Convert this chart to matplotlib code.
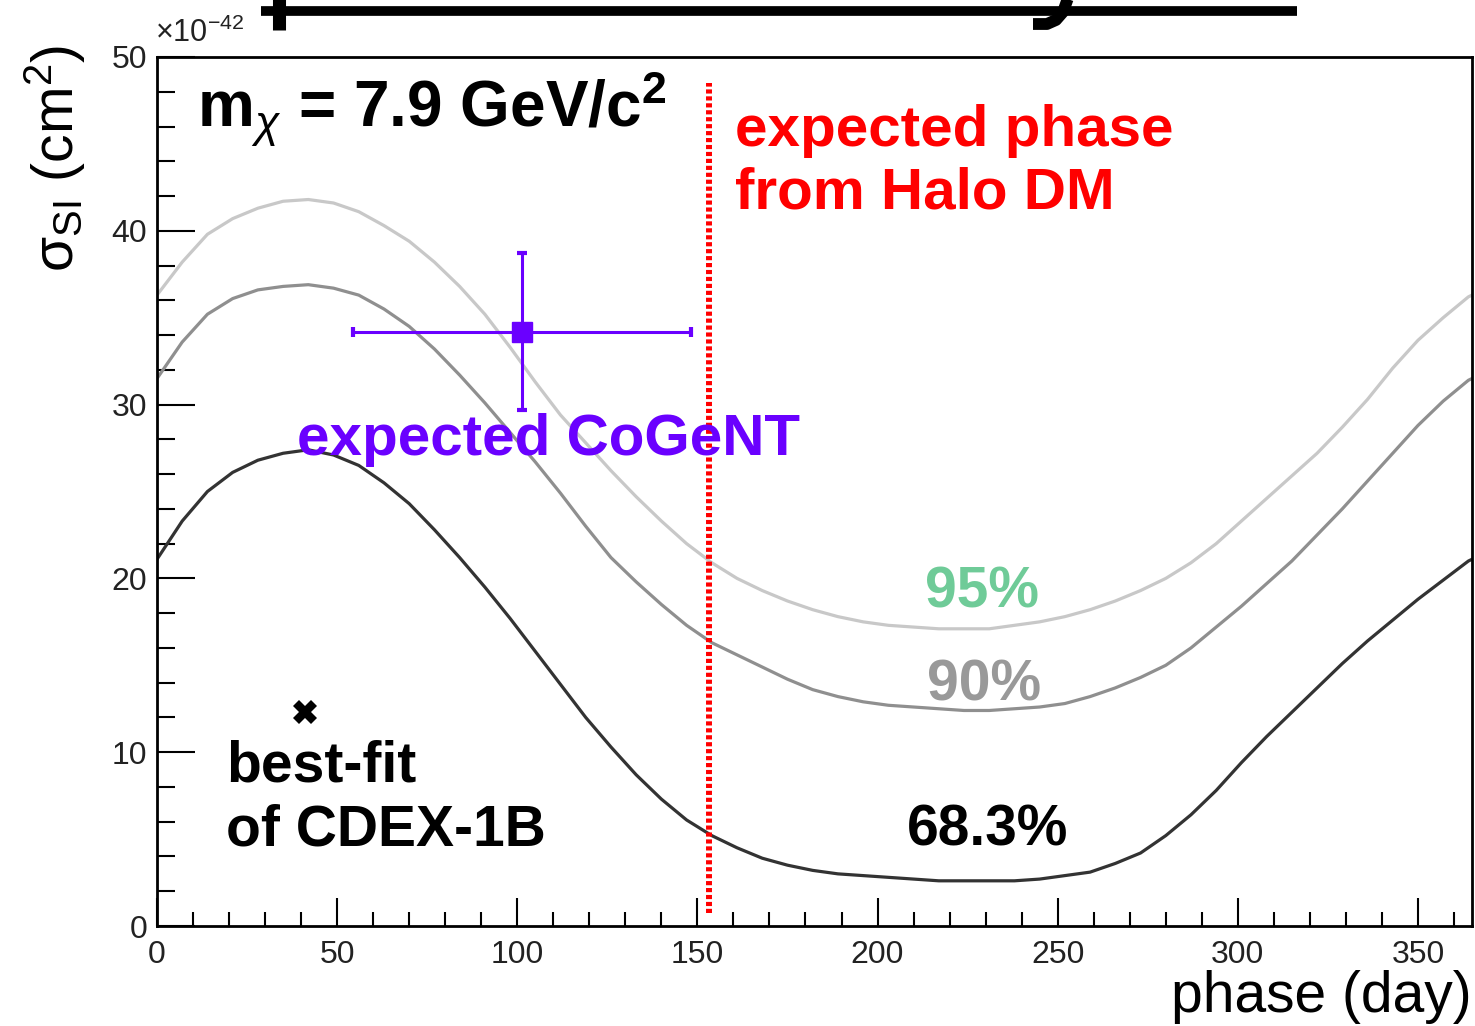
import matplotlib
matplotlib.use("Agg")
import matplotlib.pyplot as plt
from matplotlib.ticker import MultipleLocator
from matplotlib.lines import Line2D

plt.rcParams['font.family'] = ['Liberation Sans', 'DejaVu Sans']
plt.rcParams['mathtext.fontset'] = 'custom'
plt.rcParams['mathtext.rm'] = 'Liberation Sans'
plt.rcParams['mathtext.it'] = 'Liberation Sans:italic'
plt.rcParams['mathtext.bf'] = 'Liberation Sans:bold'
plt.rcParams['lines.scale_dashes'] = False

# ---- exclusion contours: phase (day) vs sigma_SI (1e-42 cm^2) ----
phase_days = [0, 7, 14, 21, 28, 35, 42,
              49, 56, 63, 70, 77, 84, 91,
              98, 105, 112, 119, 126, 133, 140,
              147, 154, 161, 168, 175, 182, 189,
              196, 203, 210, 217, 224, 231, 238,
              245, 252, 259, 266, 273, 280, 287,
              294, 301, 308, 315, 322, 329, 336,
              343, 350, 357, 364, 365]
sigma_95 = [36.3, 38.2, 39.8, 40.7, 41.3, 41.7, 41.8,
            41.6, 41.1, 40.3, 39.4, 38.2, 36.8, 35.2,
            33.3, 31.3, 29.4, 27.8, 26.2, 24.7, 23.3,
            22.0, 20.9, 20.0, 19.3, 18.7, 18.2, 17.8,
            17.5, 17.3, 17.2, 17.1, 17.1, 17.1, 17.3,
            17.5, 17.8, 18.2, 18.7, 19.3, 20.0, 20.9,
            22.0, 23.3, 24.6, 25.9, 27.2, 28.7, 30.3,
            32.1, 33.7, 35.0, 36.2, 36.3]
sigma_90 = [31.5, 33.6, 35.2, 36.1, 36.6, 36.8, 36.9,
            36.7, 36.3, 35.5, 34.5, 33.2, 31.7, 30.1,
            28.4, 26.7, 24.9, 23.0, 21.2, 19.8, 18.5,
            17.3, 16.3, 15.6, 14.9, 14.2, 13.6, 13.2,
            12.9, 12.7, 12.6, 12.5, 12.4, 12.4, 12.5,
            12.6, 12.8, 13.2, 13.7, 14.3, 15.0, 16.0,
            17.2, 18.4, 19.7, 21.0, 22.5, 24.0, 25.6,
            27.2, 28.8, 30.2, 31.4, 31.5]
sigma_68 = [21.1, 23.3, 25.0, 26.1, 26.8, 27.2, 27.4,
            27.1, 26.5, 25.5, 24.3, 22.8, 21.2, 19.5,
            17.7, 15.8, 13.9, 12.0, 10.3, 8.7, 7.3,
            6.1, 5.2, 4.5, 3.9, 3.5, 3.2, 3.0,
            2.9, 2.8, 2.7, 2.6, 2.6, 2.6, 2.6,
            2.7, 2.9, 3.1, 3.6, 4.2, 5.2, 6.4,
            7.8, 9.4, 10.9, 12.3, 13.7, 15.1, 16.4,
            17.6, 18.8, 19.9, 21.0, 21.1]
contour_labels = ['95%', '90%', '68.3%']

# best-fit point of CDEX-1B
bestfit_phase = 41.1
bestfit_sigma = 12.3

# expected CoGeNT point with uncertainties
cogent_phase = 101.3
cogent_phase_err = 47.0
cogent_sigma = 34.2
cogent_sigma_err = 4.5

# expected phase from the standard halo
halo_phase = 153.2
halo_line_span = [0.75, 48.5]

xmax = 365
ymax = 50

W, H = 1475, 1026
fig = plt.figure(figsize=(W / 100, H / 100), dpi=100)
ax = fig.add_axes([157 / W, 1 - 926 / H, (1472 - 157) / W, (926 - 57) / H])

ax.plot(phase_days, sigma_95, color='#c8c8c8', lw=2.3)
ax.plot(phase_days, sigma_90, color='#8f8f8f', lw=2.3)
ax.plot(phase_days, sigma_68, color='#333333', lw=2.3)

halo, = ax.plot([halo_phase, halo_phase], halo_line_span, color='#ff0000',
                lw=4.3, solid_capstyle='butt', dash_capstyle='butt')
halo.set_dashes((3.0, 2.0))

ax.errorbar([cogent_phase], [cogent_sigma], xerr=[cogent_phase_err],
            yerr=[cogent_sigma_err], fmt='s', color='#6a00ff', ms=14,
            elinewidth=2.2, capsize=3.5, capthick=3)

ax.plot([bestfit_phase], [bestfit_sigma], marker='X', color='black', ms=17,
        mew=0, linestyle='none')

# annotations
ax.text(11.1, 46.0, r'$\mathbf{m}_{\chi}$ = 7.9 GeV/c$^{\mathbf{2}}$',
        fontsize=46, fontweight='bold', ha='left', va='baseline')
ax.text(160.4, 44.9, 'expected phase', color='#ff0000', fontsize=42,
        fontweight='bold', ha='left', va='baseline')
ax.text(160.4, 41.3, 'from Halo DM', color='#ff0000', fontsize=42,
        fontweight='bold', ha='left', va='baseline')
ax.text(38.9, 27.1, 'expected CoGeNT', color='#6a00ff', fontsize=42,
        fontweight='bold', ha='left', va='baseline')
ax.text(229.0, 18.35, contour_labels[0], color='#6fcb98', fontsize=41,
        fontweight='bold', ha='center', va='baseline')
ax.text(229.5, 13.0, contour_labels[1], color='#999999', fontsize=41,
        fontweight='bold', ha='center', va='baseline')
ax.text(230.6, 4.66, contour_labels[2], color='black', fontsize=41,
        fontweight='bold', ha='center', va='baseline')
ax.text(19.2, 8.29, 'best-fit', color='black', fontsize=41,
        fontweight='bold', ha='left', va='baseline')
ax.text(19.2, 4.66, 'of CDEX-1B', color='black', fontsize=41,
        fontweight='bold', ha='left', va='baseline')

# axes styling
ax.set_xlim(0, xmax)
ax.set_ylim(0, ymax)
ax.xaxis.set_major_locator(MultipleLocator(50))
ax.xaxis.set_minor_locator(MultipleLocator(10))
ax.yaxis.set_major_locator(MultipleLocator(10))
ax.yaxis.set_minor_locator(MultipleLocator(2))
ax.tick_params(which='both', direction='in', top=False, right=False,
               width=1.5, colors='black', labelsize=23)
ax.tick_params(axis='x', which='major', length=20, pad=10)
ax.tick_params(axis='x', which='minor', length=10)
ax.tick_params(axis='y', which='major', length=27, pad=7)
ax.tick_params(axis='y', which='minor', length=13)
for lab in ax.get_xticklabels() + ax.get_yticklabels():
    lab.set_color('#222222')
for sp in ax.spines.values():
    sp.set_linewidth(2.0)

fig.text(155 / W, 1 - 42 / H, r'$\times$10$^{-42}$', fontsize=22,
         color='#222222', ha='left', va='baseline')
fig.text(1472 / W, 1 - 1012 / H, 'phase (day)', fontsize=41,
         ha='right', va='baseline')
fig.text(55 / W, 1 - 45 / H, 'σ$_{\\rm SI}$ (cm$^{2}$)', fontsize=41,
         rotation=90, ha='center', va='top')

# heading strokes along the top edge
def px(x, y):
    return x / W, 1 - y / H

bar = Line2D(*zip(px(261, 10.5), px(1297, 10.5)), color='black', lw=7.0,
             solid_capstyle='butt', transform=fig.transFigure)
stem = Line2D(*zip(px(278.5, -2), px(278.5, 30)), color='black', lw=9.4,
              solid_capstyle='butt', transform=fig.transFigure)
tail_pts = [px(1068, -2), px(1063, 12), px(1056, 20), px(1047, 24), px(1033, 24)]
tail = Line2D(*zip(*tail_pts), color='black', lw=8.5, solid_capstyle='butt',
              solid_joinstyle='round', transform=fig.transFigure)
for artist in (bar, stem, tail):
    fig.add_artist(artist)

fig.savefig('out.png', dpi=100)
